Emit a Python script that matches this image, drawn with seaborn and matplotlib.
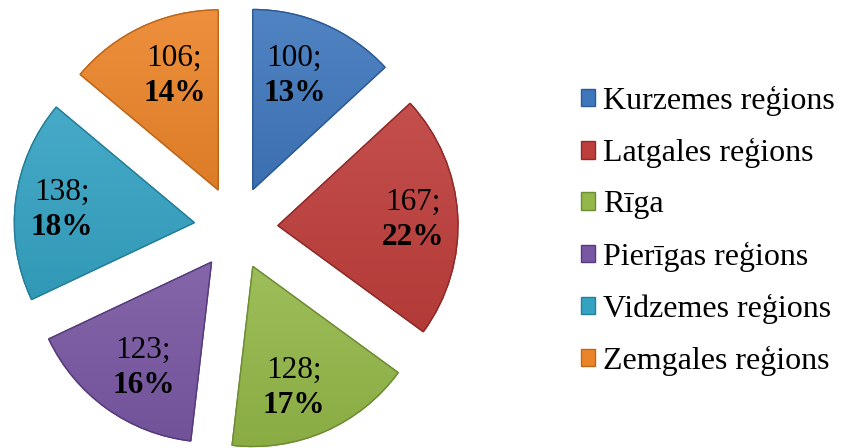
import matplotlib
matplotlib.use("Agg")
import matplotlib.pyplot as plt
import seaborn as sns
import numpy as np
from matplotlib.patches import Rectangle, Wedge
from matplotlib.colors import to_rgb

regions = ["Kurzemes reģions", "Latgales reģions", "Rīga", "Pierīgas reģions",
           "Vidzemes reģions", "Zemgales reģions"]
values = [100, 167, 128, 123, 138, 106]

sns.set_theme(style="white")
plt.rcParams['font.family'] = ['Liberation Serif', 'DejaVu Serif']

colors = ["#3F77BC", "#BE3E3B", "#93B748", "#7957A2", "#34A2C2", "#EB8429"]
edges = ["#2C5A96", "#8E2A28", "#6E8C33", "#553B7C", "#257F99", "#BF6617"]
label_dist = [0.67, 0.75, 0.71, 0.70, 0.74, 0.68]
label_shift = [-3.5, 1.0, 5.0, -3.0, -2.0, 4.0]   # degrees, clockwise

fig = plt.figure(figsize=(8.41, 4.48), dpi=100)
ax = fig.add_axes([0, 0, 1, 1])
wedges, _ = ax.pie(values, colors=colors, startangle=90, counterclock=False,
                   radius=180, center=(236, 220), explode=[42] * 6,
                   wedgeprops=dict(linewidth=1.0))


def shade(c, f):
    r = np.array(to_rgb(c))
    return np.clip(r + (1 - r) * f, 0, 1) if f > 0 else np.clip(r * (1 + f), 0, 1)


for w, c, ec in zip(wedges, colors, edges):
    w.set_edgecolor(ec)
    bb = w.get_path().get_extents(w.get_transform())
    inv = ax.transData.inverted()
    (x0, y0), (x1, y1) = inv.transform([[bb.x0, bb.y0], [bb.x1, bb.y1]])
    n = 64
    t = np.linspace(0, 1, n)[:, None]
    top, bot = shade(c, 0.09), shade(c, -0.06)
    grad = (bot[None, :] * (1 - t) + top[None, :] * t)[:, None, :]
    grad = np.repeat(grad, 2, axis=1)
    im = ax.imshow(grad, extent=(x0, x1, y0, y1), origin='lower', aspect='auto',
                   interpolation='bilinear', zorder=w.get_zorder() + 0.1)
    im.set_clip_path(w)
    ax.add_patch(Wedge(w.center, w.r, w.theta1, w.theta2, fill=False,
                       edgecolor=ec, linewidth=1.0, zorder=w.get_zorder() + 0.2))

ax.set_aspect('equal')
ax.set_xlim(0, 841)
ax.set_ylim(0, 448)
ax.axis('off')

total = sum(values)
for w, v, d, s in zip(wedges, values, label_dist, label_shift):
    th = np.deg2rad((w.theta1 + w.theta2) / 2 - s)
    cx, cy = w.center
    x = cx + d * w.r * np.cos(th)
    y = cy + d * w.r * np.sin(th)
    ax.text(x, y + 17.5, f"{v};", ha='center', va='center', fontsize=22.5,
            color='black', zorder=5)
    ax.text(x, y - 17.5, f"{round(100 * v / total)}%", ha='center', va='center',
            fontsize=22.5, fontweight='bold', color='black', zorder=5)

handles = [Rectangle((0, 0), 1, 1, facecolor=c, edgecolor=e, linewidth=1)
           for c, e in zip(colors, edges)]
leg = fig.legend(handles, regions, loc='center left', bbox_to_anchor=(581 / 841, 217 / 448),
                 frameon=False, fontsize=23, handlelength=0.45, handleheight=0.45,
                 handletextpad=0.25, labelspacing=0.69, borderaxespad=0, borderpad=0)
for t in leg.get_texts():
    t.set_color('black')
fig.savefig("out.png", dpi=100)
